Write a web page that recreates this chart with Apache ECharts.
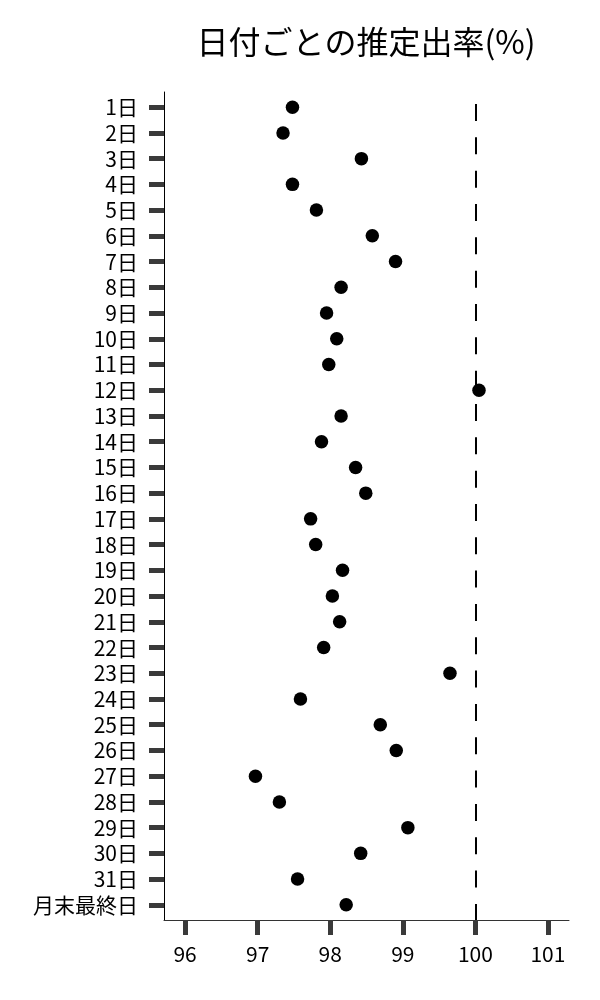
<!DOCTYPE html>
<html><head><meta charset="utf-8">
<script src="https://cdn.jsdelivr.net/npm/echarts@6/dist/echarts.min.js"></script>
<style>html,body{margin:0;padding:0;background:#fff}#c{width:600px;height:1000px}</style>
</head><body><div id="c"></div>
<script>
const days = ['1日','2日','3日','4日','5日','6日','7日','8日','9日','10日','11日','12日','13日','14日','15日','16日','17日','18日','19日','20日','21日','22日','23日','24日','25日','26日','27日','28日','29日','30日','31日','月末最終日'];
const rates = [97.48,97.35,98.43,97.48,97.81,98.58,98.90,98.15,97.95,98.09,97.98,100.05,98.15,97.88,98.35,98.49,97.73,97.80,98.17,98.03,98.13,97.91,99.65,97.59,98.69,98.91,96.97,97.30,99.07,98.42,97.55,98.22];
const xTicks = [96,97,98,99,100,101];
const refValue = 100;
const titleText = '日付ごとの推定出率(%)';

const dayIndex = days.map((d, i) => i);
const font = '"Noto Sans CJK JP", "Noto Sans", sans-serif';
const chart = echarts.init(document.getElementById('c'), null, {renderer:'canvas'});
chart.setOption({
  animation: false,
  backgroundColor: '#fff',
  title: {
    text: titleText, left: 361, top: 21, textAlign: 'center',
    textStyle: {fontFamily: font, fontSize: 32, fontWeight: 'normal', color: '#000'}
  },
  grid: {left: 164, right: 31, top: 92, bottom: 80, containLabel: false},
  xAxis: {
    type: 'value', min: 95.71, max: 101.29,
    axisLine: {show: true, onZero: false, lineStyle: {color: '#333', width: 1}},
    axisTick: {show: true, customValues: xTicks, length: 15, lineStyle: {color: '#3a3a3a', width: 5}},
    axisLabel: {customValues: xTicks, margin: 24, fontFamily: font, fontSize: 21, color: '#000'},
    splitLine: {show: false}
  },
  yAxis: {
    type: 'value', inverse: true, min: -0.59, max: 31.59,
    axisLine: {show: true, onZero: false, lineStyle: {color: '#000', width: 1}},
    axisTick: {show: true, customValues: dayIndex, length: 15, lineStyle: {color: '#3a3a3a', width: 5}},
    axisLabel: {customValues: dayIndex, margin: 26, fontFamily: font, fontSize: 21, color: '#000',
      formatter: v => days[Math.round(v)]},
    splitLine: {show: false}
  },
  series: [{
    type: 'scatter',
    data: rates.map((v, i) => [v, i]),
    symbol: 'circle', symbolSize: 13.5,
    itemStyle: {color: '#000', opacity: 1},
    markLine: {
      silent: true, symbol: 'none', label: {show: false},
      lineStyle: {color: '#000', width: 2, type: [17, 16.33], dashOffset: 21.33, opacity: 1},
      data: [{xAxis: refValue}]
    }
  }]
});
</script></body></html>
